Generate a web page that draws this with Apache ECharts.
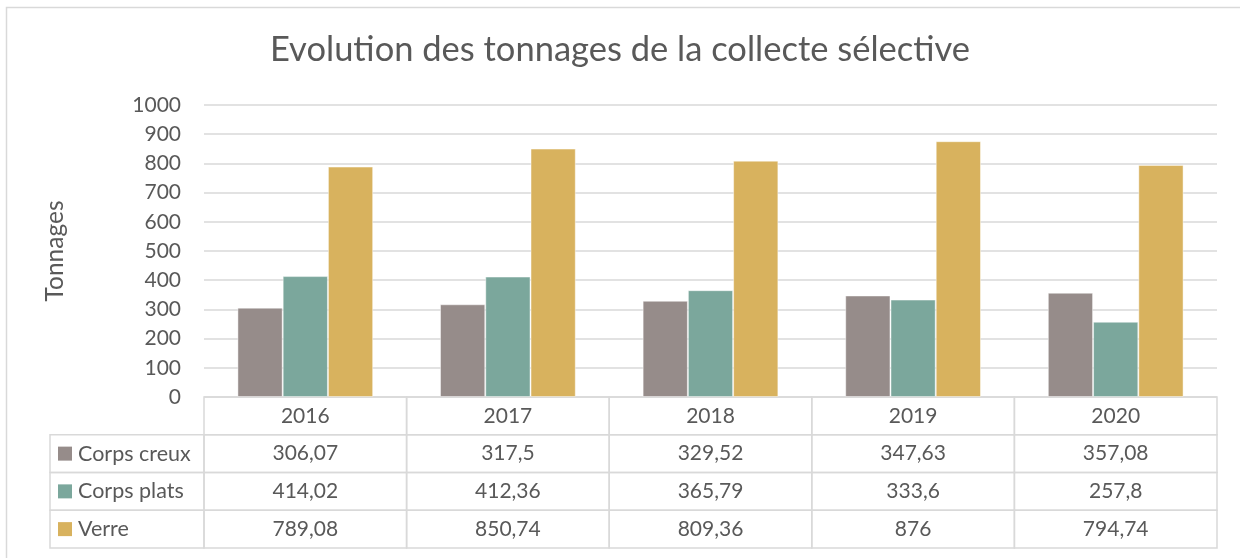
<!DOCTYPE html>
<html>
<head>
<meta charset="utf-8">
<script src="https://cdn.jsdelivr.net/npm/echarts@6/dist/echarts.min.js"></script>
<style>html,body{margin:0;padding:0;background:#fff;}#c{width:1240px;height:558px;}</style>
</head>
<body>
<div id="c"></div>
<script>
const years = ['2016', '2017', '2018', '2019', '2020'];
const seriesNames = ['Corps creux', 'Corps plats', 'Verre'];
const corpsCreux = [306.07, 317.5, 329.52, 347.63, 357.08];
const corpsPlats = [414.02, 412.36, 365.79, 333.6, 257.8];
const verre = [789.08, 850.74, 809.36, 876, 794.74];
const colors = ['#968c8a', '#7ba79c', '#d8b25e'];
const yTicks = [0, 1000, 100]; // min, max, interval

const FONT = 'Lato';
const TXT = '#595959';
const LINE = '#d9d9d9';
const LEGEND_W = 154;

const allSeries = [corpsCreux, corpsPlats, verre];
const fmt = v => String(v).replace('.', ',');

// table cells built from the arrays
const tableCells = [];
years.forEach((y, c) => tableCells.push({ value: [c, 0, y], kind: 'head' }));
allSeries.forEach((arr, r) => {
  tableCells.push({ value: [0, r + 1, seriesNames[r]], kind: 'legend', ci: r });
  arr.forEach((v, c) => tableCells.push({ value: [c, r + 1, fmt(v)], kind: 'cell' }));
});

const chart = echarts.init(document.getElementById('c'), null, { renderer: 'canvas' });

const option = {
  backgroundColor: '#fff',
  animation: false,
  textStyle: { fontFamily: FONT },
  title: {
    text: 'Evolution des tonnages de la collecte sélective',
    left: 'center',
    top: 27,
    textStyle: { fontFamily: FONT, fontSize: 34.5, fontWeight: 'normal', color: TXT }
  },
  graphic: [{
    type: 'rect', left: 4, top: 5, z: -10,
    shape: { width: 1260, height: 580 },
    style: { fill: 'none', stroke: LINE, lineWidth: 1.5 }
  }],
  grid: [
    { left: 204, right: 23, top: 105, bottom: 161 },
    { left: 204, right: 23, top: 397, bottom: 10 }
  ],
  xAxis: [
    { type: 'category', gridIndex: 0, data: years, axisLine: { show: false }, axisTick: { show: false }, axisLabel: { show: false } },
    { type: 'category', gridIndex: 1, data: years, show: false }
  ],
  yAxis: [
    {
      type: 'value', gridIndex: 0, min: yTicks[0], max: yTicks[1], interval: yTicks[2],
      name: 'Tonnages', nameLocation: 'middle', nameGap: 136,
      nameTextStyle: { fontFamily: FONT, fontSize: 24.5, color: TXT },
      axisLine: { show: false }, axisTick: { show: false },
      axisLabel: { margin: 23, fontFamily: FONT, fontSize: 21, color: TXT, formatter: v => String(v) },
      splitLine: { lineStyle: { color: LINE, width: 1.5 } }
    },
    { type: 'category', gridIndex: 1, data: ['', ...seriesNames], inverse: true, show: false }
  ],
  series: [
    ...allSeries.map((arr, i) => ({
      type: 'bar', name: seriesNames[i], data: arr,
      xAxisIndex: 0, yAxisIndex: 0,
      barGap: '0%', barCategoryGap: '33%',
      itemStyle: { color: colors[i], borderColor: 'rgba(255,255,255,0.45)', borderWidth: 1 }
    })),
    {
      type: 'custom', xAxisIndex: 1, yAxisIndex: 1, clip: false,
      data: tableCells,
      renderItem: function (params, api) {
        const cell = tableCells[params.dataIndex];
        const col = api.value(0), row = api.value(1);
        const sz = api.size([1, 1]);
        const w = sz[0], h = sz[1];
        const p = api.coord([col, row]);
        const txt = cell.value[2];
        if (cell.kind === 'legend') {
          const x0 = p[0] - w / 2 - LEGEND_W;
          const y0 = p[1] - h / 2;
          return {
            type: 'group', children: [
              { type: 'rect', shape: { x: x0, y: y0, width: LEGEND_W, height: h }, style: { fill: 'none', stroke: LINE, lineWidth: 1.5 } },
              { type: 'rect', shape: { x: x0 + 8, y: p[1] - 7, width: 14, height: 14 }, style: { fill: colors[cell.ci] } },
              { type: 'text', style: { x: x0 + 28, y: p[1], text: txt, fontFamily: FONT, fontSize: 21.5, fill: TXT, align: 'left', verticalAlign: 'middle' } }
            ]
          };
        }
        return {
          type: 'group', children: [
            { type: 'rect', shape: { x: p[0] - w / 2, y: p[1] - h / 2, width: w, height: h }, style: { fill: 'none', stroke: LINE, lineWidth: 1.5 } },
            { type: 'text', style: { x: p[0], y: p[1], text: txt, fontFamily: FONT, fontSize: 21, fill: TXT, align: 'center', verticalAlign: 'middle' } }
          ]
        };
      }
    }
  ]
};
chart.setOption(option);
</script>
</body>
</html>
